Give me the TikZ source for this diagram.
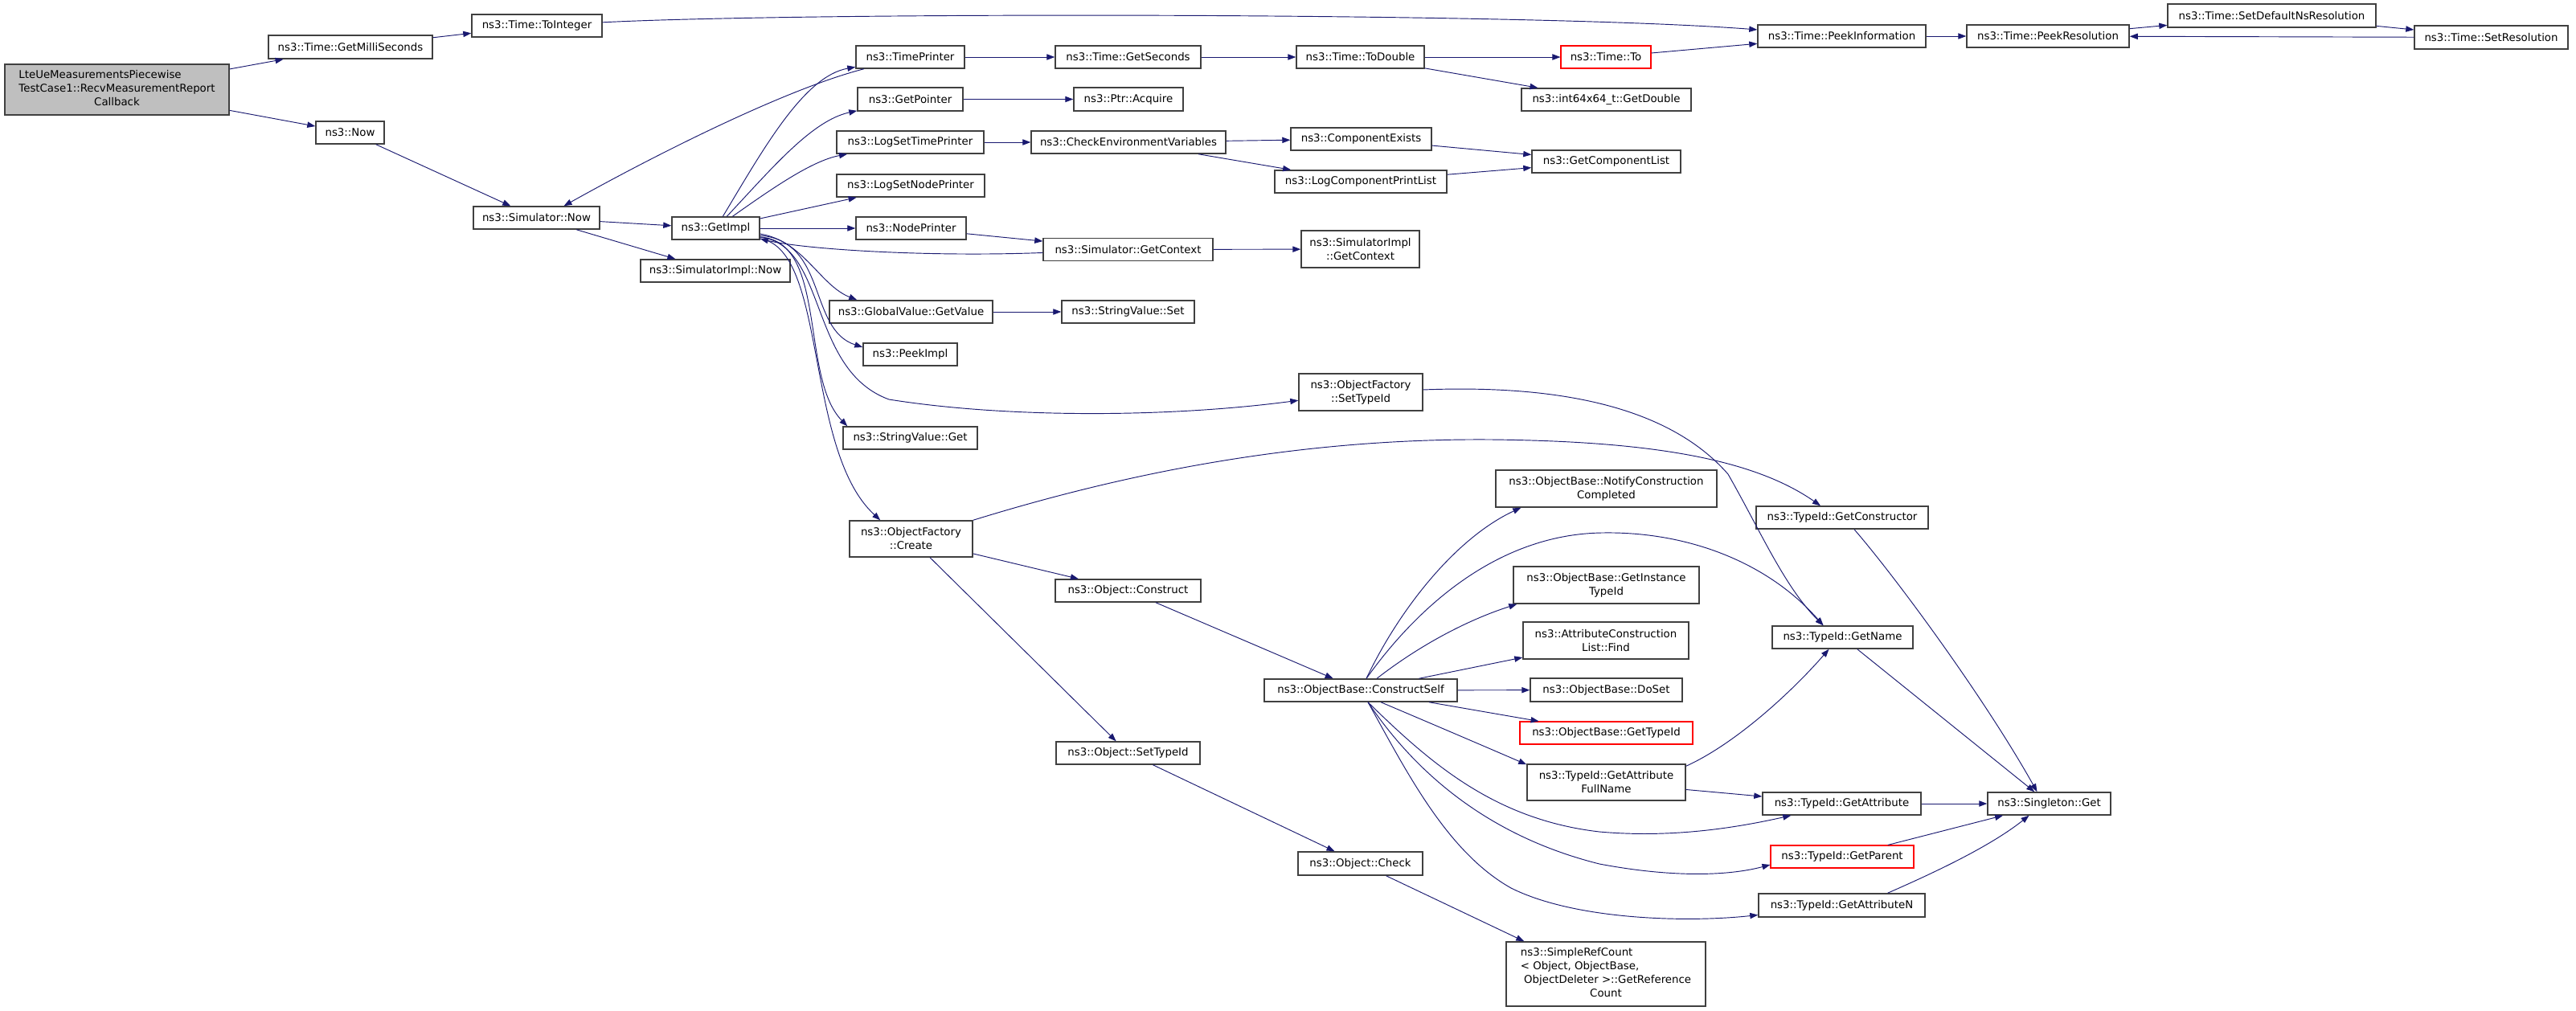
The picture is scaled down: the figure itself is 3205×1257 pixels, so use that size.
\documentclass[tikz,border=0pt]{standalone}
\usepackage{fontspec}
\setmainfont{DejaVu Sans}
\usetikzlibrary{arrows.meta,calc}
\definecolor{boxline}{HTML}{404040}
\definecolor{edgeblue}{HTML}{191970}
\definecolor{mainfill}{HTML}{BFBFBF}
\definecolor{truncred}{HTML}{FF0000}
\begin{document}
\begin{tikzpicture}[x=0.75pt,y=-0.75pt,
 fn/.style={draw=boxline,line width=1.1pt,fill=white,inner sep=0pt,align=center,font=\fontsize{10}{12.75}\selectfont},
 trunc/.style={draw=truncred,line width=0.85pt},
 sz/.style 2 args={minimum width=#1*0.75pt,minimum height=#2*0.75pt},
 callarrow/.style={draw=edgeblue,line width=0.7pt,-{Triangle[length=7.5pt,width=5.5pt]}}]
\useasboundingbox[fill=white] (0,0) rectangle (3205,1257);

\node[fn,sz={279}{63},fill=mainfill] (main) at (145.5,111.5) {\begin{tabular}{@{}l@{}}LteUeMeasurementsPiecewise\\TestCase1::RecvMeasurementReport\\\multicolumn{1}{@{}c@{}}{Callback}\end{tabular}};
\node[fn,sz={204}{29}] (gms) at (436,58.5) {ns3::Time::GetMilliSeconds};
\node[fn,sz={162}{28}] (toint) at (668,32) {ns3::Time::ToInteger};
\node[fn,sz={85}{28}] (now) at (435.5,165) {ns3::Now};
\node[fn,sz={157}{28}] (simnow) at (667.5,271) {ns3::Simulator::Now};
\node[fn,sz={186}{28}] (simimplnow) at (890,337) {ns3::SimulatorImpl::Now};
\node[fn,sz={109}{28}] (getimpl) at (890.5,284) {ns3::GetImpl};
\node[fn,sz={135}{28}] (timeprinter) at (1132.5,71) {ns3::TimePrinter};
\node[fn,sz={181}{28}] (getseconds) at (1403.5,71) {ns3::Time::GetSeconds};
\node[fn,sz={131}{29}] (getpointer) at (1132.5,123.5) {ns3::GetPointer};
\node[fn,sz={136}{29}] (acquire) at (1404,123.5) {ns3::Ptr::Acquire};
\node[fn,sz={183}{28}] (logsettp) at (1132.5,177) {ns3::LogSetTimePrinter};
\node[fn,sz={242}{28}] (checkenv) at (1404,177) {ns3::CheckEnvironmentVariables};
\node[fn,sz={184}{28}] (logsetnp) at (1133,231) {ns3::LogSetNodePrinter};
\node[fn,sz={137}{28}] (nodeprinter) at (1133.5,284) {ns3::NodePrinter};
\node[fn,sz={211}{28}] (simgetctx) at (1403.5,310.5) {ns3::Simulator::GetContext};
\node[fn,sz={203}{28}] (globalvalue) at (1133.5,388) {ns3::GlobalValue::GetValue};
\node[fn,sz={165}{28}] (strset) at (1403.5,388) {ns3::StringValue::Set};
\node[fn,sz={159}{28}] (todouble) at (1692.5,71) {ns3::Time::ToDouble};
\node[fn,sz={112}{28},trunc] (timeto) at (1998,71) {ns3::Time::To};
\node[fn,sz={211}{28}] (getdouble) at (1998.5,124) {ns3::int64x64\_t::GetDouble};
\node[fn,sz={209}{28}] (peekinfo) at (2291.5,45) {ns3::Time::PeekInformation};
\node[fn,sz={175}{28}] (compexists) at (1693.5,173) {ns3::ComponentExists};
\node[fn,sz={214}{28}] (logcompprint) at (1693,226) {ns3::LogComponentPrintList};
\node[fn,sz={185}{28}] (getcomplist) at (1998.5,201) {ns3::GetComponentList};
\node[fn,sz={147}{46}] (simimplctx) at (1692.5,310) {ns3::SimulatorImpl\\::GetContext};
\node[fn,sz={202}{28}] (peekres) at (2548,45) {ns3::Time::PeekResolution};
\node[fn,sz={259}{29}] (setdefns) at (2826.5,19.5) {ns3::Time::SetDefaultNsResolution};
\node[fn,sz={191}{29}] (setres) at (3099.5,46.5) {ns3::Time::SetResolution};
\node[fn,sz={117}{28}] (peekimpl) at (1132.5,441) {ns3::PeekImpl};
\node[fn,sz={167}{28}] (strget) at (1132.5,545) {ns3::StringValue::Get};
\node[fn,sz={153}{45}] (ofcreate) at (1133.5,670.5) {ns3::ObjectFactory\\::Create};
\node[fn,sz={181}{28}] (objconstruct) at (1403.5,735) {ns3::Object::Construct};
\node[fn,sz={154}{46}] (ofsettypeid) at (1693,488) {ns3::ObjectFactory\\::SetTypeId};
\node[fn,sz={275}{46}] (notify) at (1998.5,608) {ns3::ObjectBase::NotifyConstruction\\Completed};
\node[fn,sz={214}{28}] (getctor) at (2292,644) {ns3::TypeId::GetConstructor};
\node[fn,sz={231}{46}] (getinst) at (1998.5,728) {ns3::ObjectBase::GetInstance\\TypeId};
\node[fn,sz={206}{46}] (attrfind) at (1998,797) {ns3::AttributeConstruction\\List::Find};
\node[fn,sz={175}{28}] (getname) at (2292.5,793) {ns3::TypeId::GetName};
\node[fn,sz={240}{28}] (constructself) at (1693,859) {ns3::ObjectBase::ConstructSelf};
\node[fn,sz={179}{28}] (objsettypeid) at (1403.5,937) {ns3::Object::SetTypeId};
\node[fn,sz={155}{29}] (objcheck) at (1692.5,1074.5) {ns3::Object::Check};
\node[fn,sz={189}{29}] (doset) at (1998.5,858.5) {ns3::ObjectBase::DoSet};
\node[fn,sz={215}{28},trunc] (obgettypeid) at (1998.5,912) {ns3::ObjectBase::GetTypeId};
\node[fn,sz={197}{45}] (getattrfull) at (1998.5,973.5) {ns3::TypeId::GetAttribute\\FullName};
\node[fn,sz={197}{28}] (getattr) at (2291.5,1000) {ns3::TypeId::GetAttribute};
\node[fn,sz={153}{28}] (singleton) at (2549.5,1000) {ns3::Singleton::Get};
\node[fn,sz={178}{28},trunc] (getparent) at (2292,1066) {ns3::TypeId::GetParent};
\node[fn,sz={207}{29}] (getattrn) at (2291.5,1126.5) {ns3::TypeId::GetAttributeN};
\node[fn,sz={248}{80}] (simpleref) at (1998,1212) {\begin{tabular}{@{}l@{}}ns3::SimpleRefCount\\< Object, ObjectBase,\\\ ObjectDeleter >::GetReference\\\multicolumn{1}{@{}c@{}}{Count}\end{tabular}};

\draw[callarrow] (main) -- (gms);
\draw[callarrow] (main) -- (now);
\draw[callarrow] (gms) -- (toint);
\draw[callarrow] (toint) .. controls (1000,15) and (1900,15) .. (peekinfo);
\draw[callarrow] (now) -- (simnow);
\draw[callarrow] (simnow) -- (getimpl);
\draw[callarrow] (simnow) -- (simimplnow);
\draw[callarrow] (timeprinter) .. controls (980,110) and (820,190) .. ($(simnow.north)+(34,0)$);
\draw[callarrow] (getimpl) .. controls (950,185) and (1000,95) .. (timeprinter);
\draw[callarrow] (getimpl) .. controls (960,210) and (1010,150) .. (getpointer);
\draw[callarrow] (getimpl) .. controls (960,235) and (1010,200) .. (logsettp);
\draw[callarrow] (getimpl) -- (logsetnp);
\draw[callarrow] (getimpl) -- (nodeprinter);
\draw[callarrow] (simgetctx) .. controls (1150,320) and (1000,310) .. (getimpl);
\draw[callarrow] ($(getimpl.east)+(0,7)$) .. controls (1000,300) and (1020,355) .. ($(globalvalue.north west)+(35,0)$);
\draw[callarrow] ($(getimpl.east)+(0,9)$) .. controls (1030,300) and (1005,410) .. ($(peekimpl.west)+(0,-9)$);
\draw[callarrow] ($(getimpl.east)+(0,11)$) .. controls (1030,300) and (995,470) .. ($(strget.north west)+(6,0)$);
\draw[callarrow] ($(getimpl.east)+(0,11)$) .. controls (1030,305) and (1005,460) .. (1106,497) .. controls (1250,520) and (1450,520) .. (ofsettypeid);
\draw[callarrow] ($(getimpl.east)+(0,13)$) .. controls (1030,310) and (1000,560) .. ($(ofcreate.north west)+(39,0)$);

\draw[callarrow] (timeprinter) -- (getseconds);
\draw[callarrow] (getseconds) -- (todouble);
\draw[callarrow] (todouble) -- (timeto);
\draw[callarrow] (todouble) -- (getdouble);
\draw[callarrow] (timeto) -- (peekinfo);
\draw[callarrow] (peekinfo) -- (peekres);
\draw[callarrow] (peekres) -- (setdefns);
\draw[callarrow] (setdefns) -- (setres);
\draw[callarrow] (setres) -- (peekres);
\draw[callarrow] (getpointer) -- (acquire);
\draw[callarrow] (logsettp) -- (checkenv);
\draw[callarrow] (checkenv) -- (compexists);
\draw[callarrow] (checkenv) -- (logcompprint);
\draw[callarrow] (compexists) -- (getcomplist);
\draw[callarrow] (logcompprint) -- (getcomplist);
\draw[callarrow] (nodeprinter) -- (simgetctx);
\draw[callarrow] (simgetctx) -- (simimplctx);
\draw[callarrow] (globalvalue) -- (strset);

\draw[callarrow] (ofsettypeid) .. controls (1950,478) and (2080,510) .. (2150,590) .. controls (2190,660) and (2220,730) .. ($(getname.north)+(-24,0)$);
\draw[callarrow] (ofcreate.north east) .. controls (1380,595) and (1600,545) .. (1855,547) .. controls (2050,549) and (2180,570) .. ($(getctor.north)+(-27,0)$);
\draw[callarrow] (ofcreate) -- (objconstruct);
\draw[callarrow] (ofcreate) -- (objsettypeid);
\draw[callarrow] (objconstruct) -- (constructself);
\draw[callarrow] ($(constructself.north)+(7,0)$) .. controls (1740,760) and (1810,670) .. ($(notify.south west)+(32,0)$);
\draw[callarrow] ($(constructself.north)+(7,0)$) .. controls (1760,760) and (1860,665) .. (1993,663) .. controls (2100,661) and (2200,700) .. ($(getname.north)+(-24,0)$);
\draw[callarrow] ($(constructself.north)+(20,0)$) .. controls (1770,800) and (1830,770) .. ($(getinst.south west)+(5,0)$);
\draw[callarrow] (constructself) -- (attrfind);
\draw[callarrow] (constructself) -- (doset);
\draw[callarrow] (constructself) -- (obgettypeid);
\draw[callarrow] ($(constructself.south)+(25,0)$) .. controls (1780,900) and (1850,930) .. ($(getattrfull.north west)+(0,1)$);
\draw[callarrow] ($(constructself.south)+(9,0)$) .. controls (1780,950) and (1860,1020) .. (1990,1035) .. controls (2080,1043) and (2160,1030) .. ($(getattr.south west)+(36,0)$);
\draw[callarrow] ($(constructself.south)+(9,0)$) .. controls (1760,960) and (1850,1040) .. (1990,1075) .. controls (2080,1092) and (2150,1090) .. ($(getparent.west)+(0,10)$);
\draw[callarrow] ($(constructself.south)+(9,0)$) .. controls (1750,960) and (1800,1060) .. (1880,1105) .. controls (1960,1145) and (2100,1148) .. ($(getattrn.west)+(0,12)$);
\draw[callarrow] (objsettypeid) -- (objcheck);
\draw[callarrow] (objcheck) -- ($(simpleref.north west)+(23,0)$);

\draw[callarrow] ($(getctor.south)+(15,0)$) .. controls (2360,720) and (2470,870) .. ($(singleton.north)+(-15,0)$);
\draw[callarrow] (getname) -- (singleton);
\draw[callarrow] ($(getattrfull.north east)+(0,3)$) .. controls (2160,925) and (2230,860) .. ($(getname.south)+(-17,0)$);
\draw[callarrow] (getattrfull) -- (getattr);
\draw[callarrow] (getattr) -- (singleton);
\draw[callarrow] (getparent) -- (singleton);
\draw[callarrow] ($(getattrn.north)+(57,0)$) .. controls (2420,1080) and (2480,1050) .. ($(singleton.south)+(-25,0)$);
\end{tikzpicture}
\end{document}
